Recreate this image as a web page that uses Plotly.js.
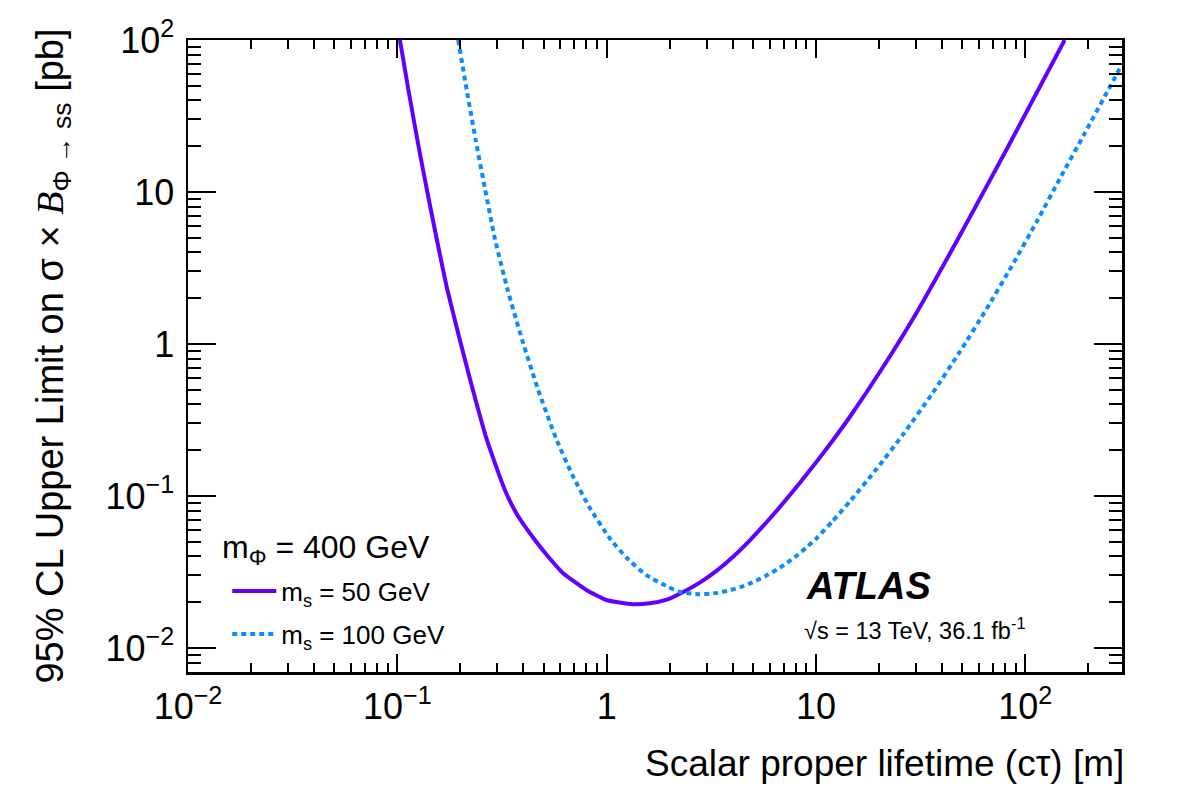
<!DOCTYPE html>
<html>
<head>
<meta charset="utf-8">
<script src="https://cdn.plot.ly/plotly-3.0.1.min.js"></script>
<style>
  html, body { margin: 0; padding: 0; background: #ffffff; }
  #chart { width: 1182px; height: 800px; }
</style>
</head>
<body>
<div id="chart"></div>
<script>
// Expected 95% CL upper limits on sigma x B vs scalar proper lifetime, m_Phi = 400 GeV
// m_s = 50 GeV
const ctau50 = [0.1029, 0.1130, 0.1247, 0.1385, 0.1546, 0.1735, 0.1990, 0.2296, 0.2679, 0.3265,
                0.3746, 0.4541, 0.5273, 0.6178, 0.7999, 0.9967, 1.3337, 1.6079, 1.9392, 2.2367,
                2.7866, 3.3597, 4.0061, 4.8304, 5.8222, 6.9413, 8.3682, 10.088, 12.029, 14.502,
                20.845, 30.29, 47.03, 81.5, 154.2];
const limit50 = [100, 46.89, 21.98, 10.31, 4.833, 2.266, 1.0624, 0.4982, 0.2336, 0.1095,
                 0.07499, 0.05135, 0.03970, 0.03114, 0.02407, 0.02069, 0.01939, 0.01968, 0.02082, 0.02277,
                 0.02690, 0.03225, 0.03963, 0.05104, 0.06745, 0.08913, 0.12178, 0.16840, 0.23180, 0.33093,
                 0.70053, 1.6138, 4.746, 19.12, 100];

// m_s = 100 GeV
const ctau100 = [0.19535, 0.21452, 0.23681, 0.26296, 0.29343, 0.33671, 0.39491, 0.47098, 0.57713, 0.68580,
                 0.83146, 1.0484, 1.2500, 1.5403, 1.9661, 2.2439, 2.7866, 3.3597, 3.8763, 4.4224,
                 4.9915, 5.6945, 6.4980, 7.2536, 8.0969, 9.0366, 10.088, 12.029, 14.502, 19.516,
                 25.975, 36.128, 48.622, 65.41, 86.10, 113.35, 146.0, 192.1, 250.2, 288.6];
const limit100 = [100, 46.89, 21.98, 10.31, 4.833, 2.266, 1.0624, 0.4982, 0.2336, 0.13741,
                  0.08338, 0.05135, 0.03910, 0.03022, 0.02520, 0.02336, 0.02256, 0.02304, 0.02397, 0.02531,
                  0.02706, 0.02954, 0.03275, 0.03620, 0.04055, 0.04604, 0.05293, 0.06848, 0.09187, 0.15121,
                  0.25233, 0.47687, 0.88726, 1.7072, 3.2498, 6.3761, 12.196, 24.296, 47.46, 68.47];

const seriesNames = ['m<sub>s</sub> = 50 GeV', 'm<sub>s</sub> = 100 GeV'];
const legendHeader = 'm<sub>Φ</sub> = 400 GeV';

// Axis tick labels
const xTickVals = [0.01, 0.1, 1, 10, 100];
const xTickText = ['10<sup>−2</sup>', '10<sup>−1</sup>', '1', '10', '10<sup>2</sup>'];
const yTickVals = [0.01, 0.1, 1, 10, 100];
const yTickText = ['10<sup>−2</sup>', '10<sup>−1</sup>', '1', '10', '10<sup>2</sup>'];

// Minor ticks: 2..9 within each decade
function minorTicks(lo, hi) {
  const out = [];
  for (let d = -3; d <= 3; d++) {
    for (let k = 2; k <= 9; k++) {
      const v = k * Math.pow(10, d);
      if (v > lo && v < hi) out.push(v);
    }
  }
  return out;
}

const FONT = 'Liberation Sans, Arial, Helvetica, sans-serif';
const xRange = [-2, 2.462];
const yRange = [-2.158, 2];

const traces = [
  {
    x: ctau50, y: limit50, type: 'scatter', mode: 'lines',
    name: seriesNames[0], legendgroup: 'a',
    line: { color: '#6200ff', width: 4, shape: 'spline', smoothing: 0.5 }
  },
  {
    x: ctau100, y: limit100, type: 'scatter', mode: 'lines',
    name: seriesNames[1], legendgroup: 'b',
    line: { color: '#0a8cff', width: 4, dash: '5px,4px', shape: 'spline', smoothing: 0.5 }
  }
];

const layout = {
  width: 1182, height: 800,
  margin: { l: 188, r: 60, t: 40, b: 128 },
  paper_bgcolor: '#ffffff', plot_bgcolor: '#ffffff',
  font: { family: FONT, color: '#000000' },
  showlegend: true,
  legend: {
    x: 0.042, y: 0.165, xanchor: 'left', yanchor: 'top',
    bgcolor: 'rgba(0,0,0,0)',
    font: { size: 26, family: FONT },
    tracegroupgap: 6,
    itemwidth: 44
  },
  xaxis: {
    type: 'log', range: xRange,
    showgrid: false, zeroline: false,
    showline: true, linecolor: '#000', linewidth: 2.5, mirror: 'ticks',
    ticks: 'inside', ticklen: 18, tickwidth: 2, tickcolor: '#000',
    tickmode: 'array', tickvals: xTickVals, ticktext: xTickText,
    tickfont: { size: 36, family: FONT },
    ticklabelstandoff: 1,
    minor: { tickmode: 'array', tickvals: minorTicks(0.01, 300), ticks: 'inside', ticklen: 9, tickwidth: 2, tickcolor: '#000', showgrid: false }
  },
  yaxis: {
    type: 'log', range: yRange,
    showgrid: false, zeroline: false,
    showline: true, linecolor: '#000', linewidth: 2.5, mirror: 'ticks',
    ticks: 'inside', ticklen: 28, tickwidth: 2, tickcolor: '#000',
    tickmode: 'array', tickvals: yTickVals, ticktext: yTickText,
    tickfont: { size: 36, family: FONT },
    ticklabelstandoff: 4,
    minor: { tickmode: 'array', tickvals: minorTicks(0.006, 100), ticks: 'inside', ticklen: 13, tickwidth: 2, tickcolor: '#000', showgrid: false },
    title: {
      text: '95% CL Upper Limit on σ × <i><span style="font-family:Liberation Serif, Times New Roman, serif">B</span></i><sub>Φ → ss</sub> [pb]',
      font: { size: 38, family: FONT },
      standoff: 30
    }
  },
  annotations: [
    {
      xref: 'paper', yref: 'paper', x: 1.004, y: -0.144,
      xanchor: 'right', yanchor: 'middle', showarrow: false,
      text: 'Scalar proper lifetime (cτ) [m]',
      font: { size: 37, family: FONT }
    },
    {
      xref: 'paper', yref: 'paper', x: 0.0343, y: 0.1946,
      xanchor: 'left', yanchor: 'middle', showarrow: false,
      text: legendHeader,
      font: { size: 32, family: FONT }
    },
    {
      xref: 'paper', yref: 'paper', x: 0.660, y: 0.136,
      xanchor: 'left', yanchor: 'middle', showarrow: false,
      text: '<b><i>ATLAS</i></b>',
      font: { size: 38, family: FONT }
    },
    {
      xref: 'paper', yref: 'paper', x: 0.657, y: 0.068,
      xanchor: 'left', yanchor: 'middle', showarrow: false,
      text: '√s = 13 TeV, 36.1 fb<sup>-1</sup>',
      font: { size: 23.5, family: FONT }
    }
  ]
};

Plotly.newPlot('chart', traces, layout, { displayModeBar: false, staticPlot: true });
</script>
</body>
</html>
